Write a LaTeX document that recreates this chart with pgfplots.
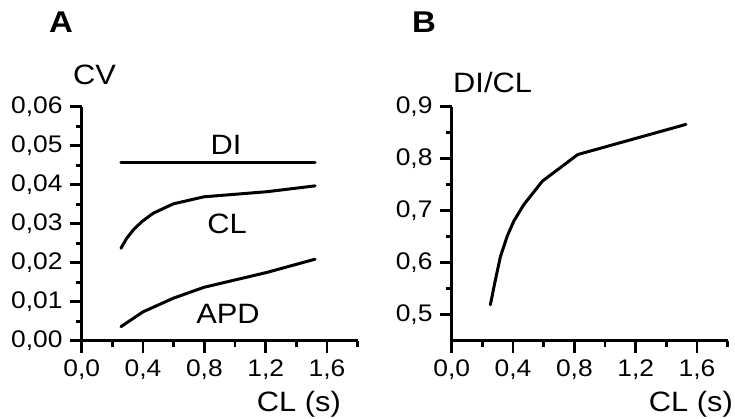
\documentclass[border=0pt]{standalone}
\usepackage{pgfplots}
\pgfplotsset{compat=1.18}
\usepackage{fontspec}
\setmainfont{Liberation Sans}[FakeStretch=1.1]

\newcommand{\tickfont}{\fontsize{24}{24}\selectfont}
\newcommand{\labfont}{\fontsize{28}{28}\selectfont}

\pgfplotsset{panel/.style={
  width=276pt, height=234pt, scale only axis,
  anchor=south west,
  axis lines=left,
  axis line style={-, line width=2.6pt, black},
  tick align=outside,
  major tick length=12pt, minor tick length=6pt,
  every tick/.style={black, line width=2.6pt},
  xmin=0, xmax=1.8,
  xtick={0,0.4,0.8,1.2,1.6},
  minor xtick={0.2,0.6,1.0,1.4,1.8},
  scaled ticks=false,
  tick label style={font=\tickfont, inner sep=0pt},
  /pgf/number format/assume math mode=true,
  xticklabel style={/pgf/number format/fixed, /pgf/number format/fixed zerofill,
    /pgf/number format/precision=1, /pgf/number format/use comma},
  xticklabel shift=7pt,
  yticklabel shift=7pt,
  clip=false,
}}
\tikzset{crv/.style={black, line width=3pt, line join=round, line cap=round, mark=none}}

\begin{document}
\begin{tikzpicture}
\useasboundingbox (0,0) rectangle (735pt,418pt);

% panel A
\begin{axis}[panel, at={(81.7pt,77.3pt)},
  ymin=0, ymax=0.06,
  ytick={0,0.01,0.02,0.03,0.04,0.05,0.06},
  minor ytick={0.005,0.015,0.025,0.035,0.045,0.055},
  yticklabel style={/pgf/number format/fixed, /pgf/number format/fixed zerofill,
    /pgf/number format/precision=2, /pgf/number format/use comma}]
% DI
\addplot[crv] coordinates {(0.256,0.0457)(1.522,0.0457)};
% CL
\addplot[crv] coordinates {(0.256,0.0237)(0.294,0.0263)(0.337,0.0284)(0.391,0.0305)
  (0.467,0.0327)(0.598,0.0351)(0.798,0.0369)(1.207,0.0382)(1.522,0.0397)};
% APD
\addplot[crv] coordinates {(0.256,0.0036)(0.400,0.0074)(0.598,0.0109)(0.798,0.0137)
  (1.207,0.0175)(1.522,0.0209)};
\end{axis}

% panel B
\begin{axis}[panel, at={(451.7pt,77.3pt)},
  ymin=0.45, ymax=0.9,
  ytick={0.5,0.6,0.7,0.8,0.9},
  minor ytick={0.55,0.65,0.75,0.85},
  yticklabel style={/pgf/number format/fixed, /pgf/number format/fixed zerofill,
    /pgf/number format/precision=1, /pgf/number format/use comma}]
\addplot[crv] coordinates {(0.252,0.519)(0.285,0.567)(0.318,0.612)(0.362,0.651)
  (0.405,0.680)(0.471,0.712)(0.592,0.757)(0.822,0.808)(1.528,0.866)};
\end{axis}

% titles and labels
\node[anchor=base west, inner sep=0pt, font=\fontsize{30}{30}\selectfont\bfseries] at (49pt,385pt) {A};
\node[anchor=base west, inner sep=0pt, font=\fontsize{30}{30}\selectfont\bfseries] at (412pt,385pt) {B};
\node[anchor=base west, inner sep=0pt, font=\labfont] at (73pt,333pt) {CV};
\node[anchor=base west, inner sep=0pt, font=\labfont] at (453pt,325pt) {DI/CL};
\node[anchor=base east, inner sep=0pt, font=\labfont] at (341pt,7pt) {CL (s)};
\node[anchor=base east, inner sep=0pt, font=\labfont] at (733pt,7pt) {CL (s)};
\node[anchor=base, inner sep=0pt, font=\labfont] at (226pt,263pt) {DI};
\node[anchor=base, inner sep=0pt, font=\labfont] at (227pt,185pt) {CL};
\node[anchor=base, inner sep=0pt, font=\labfont] at (228pt,95pt) {APD};
\end{tikzpicture}
\end{document}
